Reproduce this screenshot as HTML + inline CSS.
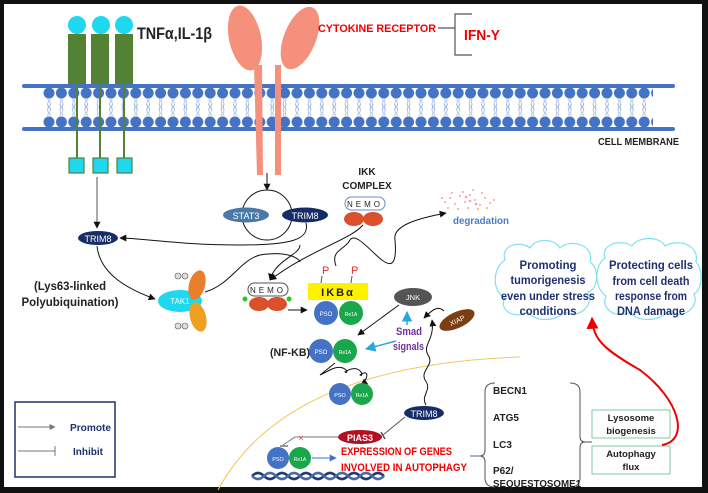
<!DOCTYPE html>
<html><head><meta charset="utf-8"><style>
html,body{margin:0;padding:0;background:#fff}
svg{display:block}
text{font-family:"Liberation Sans",sans-serif}
</style></head><body>
<svg width="708" height="493" viewBox="0 0 708 493" xmlns="http://www.w3.org/2000/svg">
<defs>
<pattern id="lipTop" x="43" y="86" width="12.4" height="32" patternUnits="userSpaceOnUse">
<circle cx="6" cy="7" r="5.5" fill="#4472c4"/>
<path d="M4.5 12 l1 3 -1 3 1 3 -1 3 M7.5 12 l-1 3 1 3 -1 3 1 3" stroke="#9ab0d8" stroke-width="0.7" fill="none"/>
</pattern>
<pattern id="lipBot" x="43" y="100" width="12.4" height="32" patternUnits="userSpaceOnUse">
<circle cx="6" cy="22" r="5.5" fill="#4472c4"/>
<path d="M4.5 4 l1 3 -1 3 1 3 -1 3 M7.5 4 l-1 3 1 3 -1 3 1 3" stroke="#9ab0d8" stroke-width="0.7" fill="none"/>
</pattern>
<marker id="ah" viewBox="0 0 10 10" refX="9" refY="5" markerWidth="7" markerHeight="7" orient="auto"><path d="M0 0L10 5L0 10z" fill="#111"/></marker>
<marker id="ahb" viewBox="0 0 10 10" refX="9" refY="5" markerWidth="7" markerHeight="7" orient="auto"><path d="M0 0L10 5L0 10z" fill="#29a8e0"/></marker>
<marker id="ahB" viewBox="0 0 10 10" refX="9" refY="5" markerWidth="7" markerHeight="7" orient="auto"><path d="M0 0L10 5L0 10z" fill="#4472c4"/></marker>
<marker id="ahr" viewBox="0 0 10 10" refX="9" refY="5" markerWidth="6" markerHeight="6" orient="auto"><path d="M0 0L10 5L0 10z" fill="#e00"/></marker>
<marker id="ahg" viewBox="0 0 10 10" refX="9" refY="5" markerWidth="6" markerHeight="6" orient="auto"><path d="M0 0L10 5L0 10z" fill="#777"/></marker>
</defs>
<rect x="0" y="0" width="708" height="493" fill="#111"/>
<rect x="4" y="4" width="698" height="483" fill="#fff"/>

<!-- membrane -->
<rect x="22" y="84" width="653" height="4" rx="2" fill="#4472c4"/>
<rect x="22" y="127" width="653" height="4" rx="2" fill="#4472c4"/>
<rect x="43" y="86" width="610" height="32" fill="url(#lipTop)"/>
<rect x="43" y="100" width="610" height="30" fill="url(#lipBot)"/>
<text x="598" y="145" font-size="10" font-weight="bold" fill="#222" textLength="81" lengthAdjust="spacingAndGlyphs">CELL MEMBRANE</text>

<!-- TNF receptors -->
<g fill="#548235">
<rect x="68" y="34" width="18" height="50"/><rect x="91" y="34" width="18" height="50"/><rect x="115" y="34" width="18" height="50"/>
</g>
<g fill="#1fd8f0"><circle cx="77" cy="25" r="9"/><circle cx="101" cy="25" r="9"/><circle cx="124" cy="25" r="9"/></g>
<g stroke="#548235" stroke-width="2"><line x1="77" y1="84" x2="77" y2="158"/><line x1="100" y1="84" x2="100" y2="158"/><line x1="124" y1="84" x2="124" y2="158"/></g>
<g fill="#1fd8f0" stroke="#548235" stroke-width="1.2"><rect x="69" y="158" width="15" height="15"/><rect x="93" y="158" width="15" height="15"/><rect x="117" y="158" width="15" height="15"/></g>
<text x="137" y="39" font-size="17" font-weight="bold" fill="#222" textLength="75" lengthAdjust="spacingAndGlyphs">TNFα,IL-1β</text>

<!-- cytokine receptor -->
<g fill="#f4907c">
<ellipse cx="245" cy="38" rx="16" ry="33" transform="rotate(-12 245 38)"/>
<ellipse cx="300" cy="38" rx="16" ry="33" transform="rotate(22 300 38)"/>
<path d="M254 65 L262 65 L263 175 L257 175 Z"/>
<rect x="275" y="65" width="6" height="110"/>
</g>
<text x="318" y="32" font-size="11" font-weight="bold" fill="#e00" textLength="118" lengthAdjust="spacingAndGlyphs">CYTOKINE  RECEPTOR</text>
<path d="M438 28 H455 M472 14 H455 V55 H472" stroke="#555" stroke-width="1.2" fill="none"/>
<text x="464" y="40" font-size="15" font-weight="bold" fill="#e00" textLength="36" lengthAdjust="spacingAndGlyphs">IFN-Y</text>

<!-- STAT3 / TRIM8 loop -->
<line x1="267" y1="173" x2="267" y2="190" stroke="#111" marker-end="url(#ah)"/>
<circle cx="267" cy="215" r="25" fill="none" stroke="#111"/>
<ellipse cx="246" cy="215" rx="23" ry="7.5" fill="#4a78a8"/>
<text x="246" y="219" font-size="9" fill="#fff" text-anchor="middle">STAT3</text>
<ellipse cx="305" cy="215" rx="23" ry="7.5" fill="#162c66"/>
<text x="305" y="219" font-size="9" fill="#fff" text-anchor="middle">TRIM8</text>
<path d="M306 223 C310 240 290 245 240 245 C180 245 140 238 120 238" fill="none" stroke="#111" marker-end="url(#ah)"/>
<line x1="97" y1="177" x2="97" y2="228" stroke="#555" marker-end="url(#ah)"/>
<ellipse cx="98" cy="238" rx="20" ry="7" fill="#162c66"/>
<text x="98" y="242" font-size="9" fill="#fff" text-anchor="middle">TRIM8</text>
<path d="M97 246 C100 275 130 290 155 299" fill="none" stroke="#111" marker-end="url(#ah)"/>

<!-- IKK complex -->
<text x="367" y="175" font-size="10" font-weight="bold" fill="#222" text-anchor="middle">IKK</text>
<text x="367" y="189" font-size="10" font-weight="bold" fill="#222" text-anchor="middle">COMPLEX</text>
<rect x="345" y="197" width="40" height="13" rx="6.5" fill="#fff" stroke="#6a8ac8"/>
<text x="365" y="207" font-size="8" text-anchor="middle" fill="#222" letter-spacing="3">NEMO</text>
<ellipse cx="354" cy="219" rx="10" ry="7" fill="#d9502a"/><ellipse cx="373" cy="219" rx="10" ry="7" fill="#d9502a"/>
<path d="M363 225 C350 240 310 250 270 280" fill="none" stroke="#111" marker-end="url(#ah)"/>

<!-- degradation -->
<g fill="#f4907c" opacity="0.8">
<circle cx="445" cy="202" r="1"/><circle cx="450" cy="198" r="1"/><circle cx="455" cy="204" r="1"/><circle cx="460" cy="196" r="1"/><circle cx="465" cy="202" r="1"/><circle cx="470" cy="195" r="1"/><circle cx="475" cy="200" r="1"/><circle cx="480" cy="205" r="1"/><circle cx="485" cy="198" r="1"/><circle cx="490" cy="203" r="1"/><circle cx="468" cy="208" r="1"/><circle cx="458" cy="209" r="1"/><circle cx="478" cy="209" r="1"/><circle cx="463" cy="192" r="1"/><circle cx="473" cy="190" r="1"/><circle cx="448" cy="208" r="1"/><circle cx="482" cy="193" r="1"/><circle cx="452" cy="193" r="1"/><circle cx="470" cy="201" r="1.3"/><circle cx="466" cy="197" r="1.3"/><circle cx="476" cy="204" r="1.3"/><circle cx="487" cy="208" r="1"/><circle cx="494" cy="200" r="1"/><circle cx="442" cy="198" r="1"/>
</g>
<text x="453" y="224" font-size="10.5" font-weight="bold" fill="#4a7ac8" textLength="56" lengthAdjust="spacingAndGlyphs">degradation</text>
<path d="M336 266 C330 250 345 250 350 240 C360 225 400 300 395 240 C392 225 420 218 446 213" fill="none" stroke="#111" marker-end="url(#ah)"/>

<!-- Lys63 -->
<text x="70" y="290" font-size="12" font-weight="bold" fill="#222" text-anchor="middle" textLength="72" lengthAdjust="spacingAndGlyphs">(Lys63-linked</text>
<text x="70" y="306" font-size="12" font-weight="bold" fill="#222" text-anchor="middle" textLength="97" lengthAdjust="spacingAndGlyphs">Polyubiquination)</text>

<!-- TAK1 complex -->
<ellipse cx="180" cy="301" rx="22" ry="11" fill="#1fd8f0"/>
<text x="180" y="304" font-size="8" fill="#fff" text-anchor="middle">TAK1</text>
<ellipse cx="197" cy="285" rx="8" ry="15" fill="#e97e2d" transform="rotate(15 197 285)"/>
<ellipse cx="198" cy="317" rx="8" ry="15" fill="#f0a020" transform="rotate(-15 198 317)"/>
<g fill="#ddd" stroke="#555" stroke-width="0.6"><circle cx="178" cy="276" r="3"/><circle cx="185" cy="276" r="3"/><circle cx="178" cy="326" r="3"/><circle cx="185" cy="326" r="3"/></g>
<path d="M205 292 C230 285 240 260 260 255 C290 250 300 260 300 262" fill="none" stroke="#111"/>
<path d="M300 245 C300 255 275 260 270 280" fill="none" stroke="#111" marker-end="url(#ah)"/>

<!-- NEMO 2 -->
<rect x="248" y="283" width="40" height="13" rx="6.5" fill="#fff" stroke="#555"/>
<text x="268" y="293" font-size="8" text-anchor="middle" fill="#222" letter-spacing="3">NEMO</text>
<ellipse cx="259" cy="304" rx="10" ry="7" fill="#d9502a"/><ellipse cx="277" cy="304" rx="10" ry="7" fill="#d9502a"/>
<circle cx="245" cy="299" r="2.5" fill="#2c2"/><circle cx="289" cy="299" r="2.5" fill="#2c2"/>
<line x1="288" y1="310" x2="307" y2="310" stroke="#111" marker-end="url(#ah)"/>

<!-- IKBa -->
<text x="322" y="274" font-size="11" fill="#e03030">P</text><text x="351" y="274" font-size="11" fill="#e03030">P</text>
<line x1="322" y1="276" x2="321" y2="283" stroke="#555"/><line x1="352" y1="276" x2="351" y2="283" stroke="#555"/>
<rect x="308" y="283" width="60" height="17" fill="#fff200"/>
<text x="338" y="296" font-size="11" font-weight="bold" fill="#222" text-anchor="middle" letter-spacing="2">IKBα</text>
<circle cx="326" cy="313" r="12" fill="#4472c4"/><circle cx="351" cy="313" r="12" fill="#1aa64a"/>
<text x="326" y="316" font-size="6" fill="#fff" text-anchor="middle">PSO</text><text x="351" y="316" font-size="5" fill="#fff" text-anchor="middle">Re1A</text>

<!-- JNK / XIAP / Smad -->
<ellipse cx="413" cy="297" rx="19" ry="9" fill="#555"/>
<text x="413" y="300" font-size="7.5" fill="#fff" text-anchor="middle">JNK</text>
<ellipse cx="457" cy="320" rx="19" ry="8" fill="#7a3e10" transform="rotate(-25 457 320)"/>
<text x="457" y="323" font-size="7" fill="#fff" text-anchor="middle" transform="rotate(-25 457 320)">XIAP</text>
<line x1="399" y1="305" x2="358" y2="335" stroke="#111" marker-end="url(#ah)"/>
<path d="M444 311 C438 305 432 310 424 318" fill="none" stroke="#111" marker-end="url(#ah)"/>
<line x1="407" y1="325" x2="407" y2="312" stroke="#29a8e0" stroke-width="1.5" marker-end="url(#ahb)"/>
<line x1="396" y1="341" x2="366" y2="349" stroke="#29a8e0" stroke-width="1.5" marker-end="url(#ahb)"/>
<text x="396" y="335" font-size="11" font-weight="bold" fill="#7030a0" textLength="26" lengthAdjust="spacingAndGlyphs">Smad</text>
<text x="393" y="350" font-size="11" font-weight="bold" fill="#7030a0" textLength="31" lengthAdjust="spacingAndGlyphs">signals</text>

<!-- nucleus arc -->
<path d="M218 490 Q285 365 520 357" fill="none" stroke="#f0c860" stroke-width="1"/>

<!-- NF-KB -->
<text x="270" y="356" font-size="11" font-weight="bold" fill="#222" textLength="40" lengthAdjust="spacingAndGlyphs">(NF-KB)</text>
<circle cx="321" cy="351" r="12" fill="#4472c4"/><circle cx="345" cy="351" r="12" fill="#1aa64a"/>
<text x="321" y="354" font-size="6" fill="#fff" text-anchor="middle">PSO</text><text x="345" y="354" font-size="5" fill="#fff" text-anchor="middle">Re1A</text>
<path d="M335 363 L320 375 L330 370 C345 362 350 375 345 372 C360 362 365 378 360 375 C370 368 368 380 361 385" fill="none" stroke="#111" marker-end="url(#ah)"/>
<circle cx="340" cy="394" r="11" fill="#4472c4"/><circle cx="362" cy="394" r="11" fill="#1aa64a"/>
<text x="340" y="397" font-size="5.5" fill="#fff" text-anchor="middle">PSO</text><text x="362" y="397" font-size="5" fill="#fff" text-anchor="middle">Re1A</text>

<!-- TRIM8 lower -->
<path d="M426 405 C420 395 433 390 425 380 C420 370 435 365 428 355 C422 345 435 340 432 320" fill="none" stroke="#111" marker-end="url(#ah)"/>
<ellipse cx="424" cy="413" rx="20" ry="7" fill="#162c66"/>
<text x="424" y="417" font-size="9" fill="#fff" text-anchor="middle">TRIM8</text>
<line x1="405" y1="417" x2="383" y2="435" stroke="#555"/><line x1="381" y1="432" x2="385" y2="439" stroke="#555" stroke-width="1.5"/>
<ellipse cx="360" cy="437" rx="22" ry="7" fill="#b01020"/>
<text x="360" y="441" font-size="9" font-weight="bold" fill="#fff" text-anchor="middle">PIAS3</text>
<path d="M338 437 H295 L283 445" fill="none" stroke="#777"/><line x1="280" y1="446" x2="288" y2="446" stroke="#777" stroke-width="1.5"/>
<text x="301" y="441" font-size="9" fill="#e04040" text-anchor="middle">×</text>
<circle cx="278" cy="458" r="11" fill="#4472c4"/><circle cx="300" cy="458" r="11" fill="#1aa64a"/>
<text x="278" y="461" font-size="5.5" fill="#fff" text-anchor="middle">PSO</text><text x="300" y="461" font-size="5" fill="#fff" text-anchor="middle">Re1A</text>
<line x1="312" y1="458" x2="336" y2="458" stroke="#4472c4" marker-end="url(#ahB)"/>
<text x="341" y="455" font-size="11" font-weight="bold" fill="#e00" textLength="111" lengthAdjust="spacingAndGlyphs">EXPRESSION OF GENES</text>
<text x="341" y="471" font-size="11" font-weight="bold" fill="#e00" textLength="126" lengthAdjust="spacingAndGlyphs">INVOLVED IN AUTOPHAGY</text>
<path d="M252 476 q6 -6 12 0 t12 0 t12 0 t12 0 t12 0 t12 0 t12 0 t12 0 t12 0 t12 0 t12 0" fill="none" stroke="#1f3b70" stroke-width="2.5"/>
<path d="M252 476 q6 6 12 0 t12 0 t12 0 t12 0 t12 0 t12 0 t12 0 t12 0 t12 0 t12 0 t12 0" fill="none" stroke="#4a6aa0" stroke-width="2.5"/>
<line x1="470" y1="456" x2="483" y2="456" stroke="#4a6aa0"/>

<!-- gene brace -->
<path d="M495 383 Q485 383 485 392 V450 Q485 456 480 456 Q485 456 485 462 V478 Q485 487 495 487" fill="none" stroke="#555"/>
<path d="M570 383 Q580 383 580 392 V436 Q580 442 585 442 Q580 442 580 448 V478 Q580 487 570 487" fill="none" stroke="#555"/>
<line x1="585" y1="442" x2="592" y2="442" stroke="#555"/>
<g font-size="10" font-weight="bold" fill="#222">
<text x="493" y="394">BECN1</text><text x="493" y="421">ATG5</text><text x="493" y="448">LC3</text>
<text x="493" y="474">P62/</text><text x="493" y="487" textLength="88" lengthAdjust="spacingAndGlyphs">SEQUESTOSOME1</text>
</g>
<rect x="592" y="410" width="78" height="28" fill="#fff" stroke="#80c8a0"/>
<rect x="592" y="446" width="78" height="28" fill="#fff" stroke="#80c8a0"/>
<g font-size="9.5" font-weight="bold" fill="#222" text-anchor="middle">
<text x="631" y="421">Lysosome</text><text x="631" y="434">biogenesis</text>
<text x="631" y="457">Autophagy</text><text x="631" y="470">flux</text>
</g>
<path d="M662 445 C690 440 680 400 640 370 C605 350 593 340 592 318" fill="none" stroke="#e00" stroke-width="2" marker-end="url(#ahr)"/>

<!-- clouds -->
<g fill="#fff" stroke="#80e0f0" stroke-width="1.2">
<path d="M505 260 C500 245 520 240 530 248 C535 238 555 238 560 248 C570 238 595 245 590 262 C600 268 598 290 588 292 C595 305 578 320 565 312 C555 322 535 322 528 312 C515 320 498 310 505 298 C492 292 492 268 505 260 Z"/>
<path d="M605 258 C600 245 620 238 632 246 C638 236 660 236 665 246 C678 238 700 245 696 262 C704 270 702 290 694 294 C700 308 682 320 668 312 C658 322 636 322 630 312 C616 320 600 308 606 296 C594 288 594 266 605 258 Z"/>
</g>
<g font-size="12" font-weight="bold" fill="#1f3070" text-anchor="middle" lengthAdjust="spacingAndGlyphs">
<text x="548" y="269" textLength="57" lengthAdjust="spacingAndGlyphs">Promoting</text><text x="548" y="284" textLength="75" lengthAdjust="spacingAndGlyphs">tumorigenesis</text><text x="548" y="300" textLength="94" lengthAdjust="spacingAndGlyphs">even under stress</text><text x="548" y="315" textLength="57" lengthAdjust="spacingAndGlyphs">conditions</text>
<text x="651" y="269" textLength="84" lengthAdjust="spacingAndGlyphs">Protecting cells</text><text x="651" y="285" textLength="77" lengthAdjust="spacingAndGlyphs">from cell death</text><text x="651" y="300" textLength="72" lengthAdjust="spacingAndGlyphs">response from</text><text x="651" y="315" textLength="68" lengthAdjust="spacingAndGlyphs">DNA damage</text>
</g>

<!-- legend -->
<rect x="15" y="402" width="100" height="75" fill="#fff" stroke="#1f3070" stroke-width="1.5"/>
<line x1="18" y1="427" x2="55" y2="427" stroke="#777" marker-end="url(#ahg)"/>
<line x1="18" y1="451" x2="55" y2="451" stroke="#777"/><line x1="55" y1="446" x2="55" y2="456" stroke="#777"/>
<text x="70" y="431" font-size="10.5" font-weight="bold" fill="#1f3070" textLength="41" lengthAdjust="spacingAndGlyphs">Promote</text>
<text x="73" y="455" font-size="10.5" font-weight="bold" fill="#1f3070" textLength="30" lengthAdjust="spacingAndGlyphs">Inhibit</text>
</svg>
</body></html>
